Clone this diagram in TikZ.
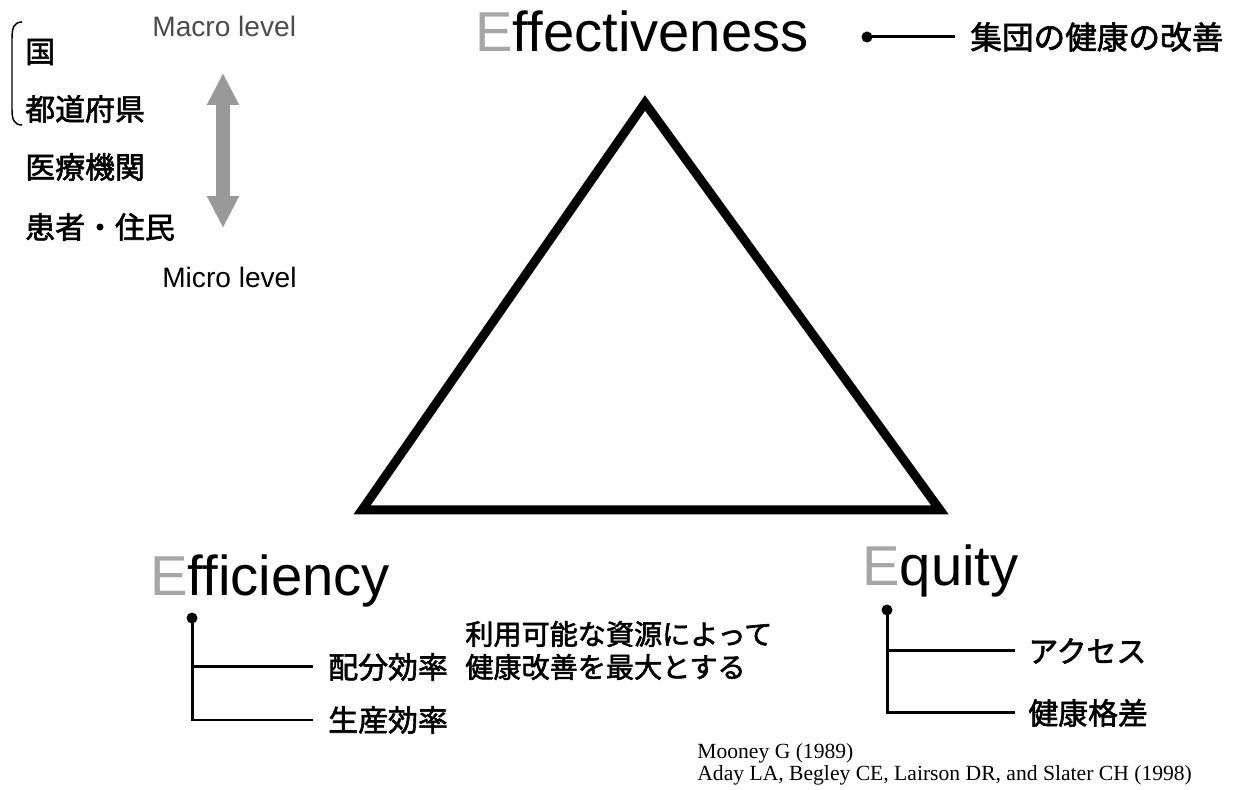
\documentclass[tikz,border=0pt]{standalone}
\usepackage{fontspec}
\setmainfont{Liberation Sans}
\newfontfamily\jpfont{Noto Sans CJK JP}[FakeBold=2]
\newfontfamily\citefont{Liberation Serif}
\usetikzlibrary{arrows.meta,positioning}
\newcommand{\grayE}{\textcolor{black!35}{E}}

\begin{document}
\begin{tikzpicture}[x=0.02cm, y=-0.02cm,
    title/.style={font=\fontsize{32}{36}\selectfont, inner sep=0pt, anchor=base west},
    jptext/.style={font=\fontsize{17}{20}\jpfont, inner sep=0pt, anchor=west},
    level/.style={font=\fontsize{16}{18}\selectfont, inner sep=0pt},
    citation/.style={font=\fontsize{12.3}{12.5}\citefont, inner sep=0pt, anchor=base west},
    branch/.style={line width=0.06cm},
    knot/.style={circle, fill=black, inner sep=0pt, minimum size=0.22cm},
    bigarrow/.style={line width=0.28cm, color=black!40,
        {Triangle[length=0.64cm,width=0.6cm]}-{Triangle[length=0.64cm,width=0.6cm]}}]

\useasboundingbox (0,0) rectangle (1242,790);

% the triangle
\coordinate (topcorner) at (645,103);
\coordinate (leftcorner) at (362,510);
\coordinate (rightcorner) at (940,510);
\draw[line width=0.18cm, miter limit=10] (topcorner) -- (rightcorner) -- (leftcorner) -- cycle;

% the three E's
\node[title] (effect) at (475,52) {\grayE ffectiveness};
\node[title] (effic) at (150,596) {\grayE fficiency};
\node[title] (equity) at (862,586) {\grayE quity};

\node[knot] (effdot) at (867,37) {};
\node[jptext, font=\fontsize{18}{20}\jpfont] (health) at (970,37) {集団の健康の改善};
\draw[branch] (effdot.center) -- ([xshift=-0.3cm]health.west);

% efficiency
\node[knot] (effidot) at (192,618) {};
\node[jptext] (alloc) at (328,667) {配分効率};
\node[jptext] (prod) at (328,720) {生産効率};
\draw[branch] (effidot.center) |- ([xshift=-0.3cm]prod.west);
\draw[branch] (effidot.center |- alloc.west) -- ([xshift=-0.3cm]alloc.west);
\node[jptext, font=\fontsize{16}{20}\jpfont] (resource) at (465,634) {利用可能な資源によって};
\node[jptext, font=\fontsize{16}{20}\jpfont] (maximum) at (465,667) {健康改善を最大とする};

% equity
\node[knot] (eqdot) at (887,610) {};
\node[jptext] (access) at (1028,651) {アクセス};
\node[jptext] (gap) at (1028,713) {健康格差};
\draw[branch] (eqdot.center) |- ([xshift=-0.26cm]gap.west);
\draw[branch] (eqdot.center |- access.west) -- ([xshift=-0.26cm]access.west);

% levels on the left
\node[level, text=black!70, anchor=west] (macro) at (152,26) {Macro level};
\node[level, anchor=east] (micro) at (297,277) {Micro level};
\node[jptext] (nation) at (25,52) {国};
\node[jptext] (pref) at (25,109) {都道府県};
\node[jptext] (inst) at (25,167) {医療機関};
\node[jptext] (people) at (25,227) {患者・住民};
\draw[line width=0.03cm] (22,22) .. controls (14,22) and (12,28) .. (12,38)
    -- (12,110) .. controls (12,119) and (14,125) .. (22,125);
\coordinate (uptip) at (223,73);
\coordinate (downtip) at (223,228);
\draw[bigarrow] (downtip) -- (uptip);

% references
\node[citation] (mooney) at (697,759) {Mooney G (1989)};
\node[citation] (aday) at (697,781) {Aday LA, Begley CE, Lairson DR, and Slater CH (1998)};
\end{tikzpicture}
\end{document}
